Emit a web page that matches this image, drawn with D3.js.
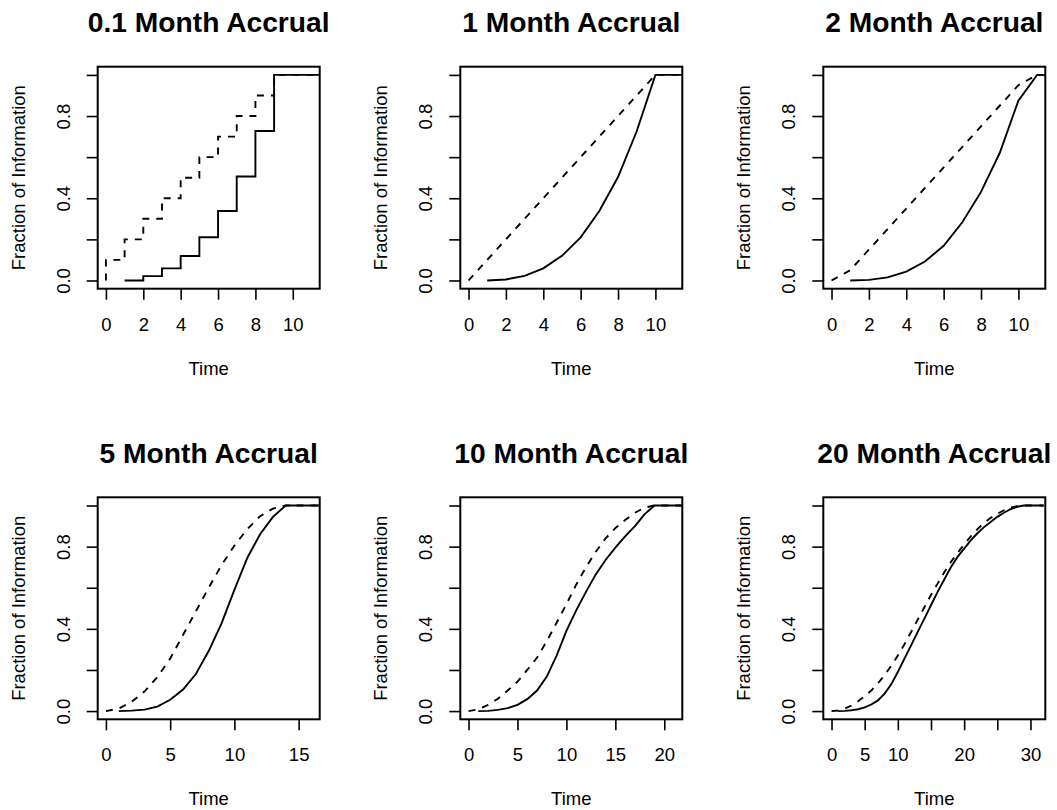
<!DOCTYPE html>
<html>
<head>
<meta charset="utf-8">
<script src="https://cdn.jsdelivr.net/npm/d3@7"></script>
<style>
  html, body { margin: 0; padding: 0; background: #fff; }
  svg { display: block; }
  text { font-family: "Liberation Sans", Arial, Helvetica, sans-serif; fill: #000; }
</style>
</head>
<body>
<svg id="chart" width="1057" height="810"></svg>
<script>
// ---------------- data ----------------
const titles = ["0.1 Month Accrual", "1 Month Accrual", "2 Month Accrual",
                "5 Month Accrual", "10 Month Accrual", "20 Month Accrual"];
const xMax = [11, 11, 11, 16, 21, 31];
const xTicks = [[0,2,4,6,8,10],[0,2,4,6,8,10],[0,2,4,6,8,10],
                [0,5,10,15],[0,5,10,15,20],[0,5,10,15,20,25,30]];
const xTickLabels = [["0","2","4","6","8","10"],["0","2","4","6","8","10"],["0","2","4","6","8","10"],
                     ["0","5","10","15"],["0","5","10","15","20"],["0","5","10","","20","","30"]];
const yTicks = [0, 0.2, 0.4, 0.6, 0.8, 1.0];
const yTickLabels = ["0.0", "", "0.4", "", "0.8", ""];
const xLabel = "Time";
const yLabel = "Fraction of Information";

// panel 1: 0.1 month accrual (step functions)
const solid1Time = [1, 2, 3, 4, 5, 6, 7, 8, 9, 12];
const solid1Val  = [0, 0.021, 0.059, 0.119, 0.21, 0.338, 0.506, 0.727, 1.0, 1.0];
const dash1Time  = [0, 1, 2, 3, 4, 5, 6, 7, 8, 9, 12];
const dash1Val   = [0, 0.1, 0.2, 0.3, 0.4, 0.5, 0.6, 0.7, 0.8, 0.9, 1.0];

// panel 2: 1 month accrual
const solid2Time = [1, 2, 3, 4, 5, 6, 7, 8, 9, 10, 12];
const solid2Val  = [0, 0.005, 0.022, 0.059, 0.12, 0.21, 0.338, 0.503, 0.726, 1.0, 1.0];
const dash2Time  = [0, 1, 2, 3, 4, 5, 6, 7, 8, 9, 10, 12];
const dash2Val   = [0, 0.1, 0.2, 0.3, 0.4, 0.5, 0.6, 0.7, 0.8, 0.9, 1.0, 1.0];

// panel 3: 2 month accrual
const solid3Time = [1, 2, 3, 4, 5, 6, 7, 8, 9, 10, 11, 12];
const solid3Val  = [0, 0.003, 0.015, 0.043, 0.092, 0.169, 0.283, 0.431, 0.62, 0.875, 1.0, 1.0];
const dash3Time  = [0, 1, 2, 3, 4, 5, 6, 7, 8, 9, 10, 11, 12];
const dash3Val   = [0, 0.05, 0.15, 0.25, 0.35, 0.45, 0.55, 0.65, 0.75, 0.85, 0.95, 1.0, 1.0];

// panel 4: 5 month accrual
const solid4Time = [1, 2, 3, 4, 5, 6, 7, 8, 9, 10, 11, 12, 13, 14, 17];
const solid4Val  = [0, 0.002, 0.007, 0.022, 0.055, 0.105, 0.18, 0.292, 0.427, 0.59, 0.745, 0.86, 0.945, 1.0, 1.0];
const dash4Time  = [0, 1, 2, 3, 4, 5, 6, 7, 8, 9, 10, 11, 12, 13, 14, 17];
const dash4Val   = [0, 0.012, 0.045, 0.095, 0.165, 0.255, 0.37, 0.485, 0.6, 0.71, 0.805, 0.885, 0.948, 0.985, 1.0, 1.0];

// panel 5: 10 month accrual
const solid5Time = [1, 2, 3, 4, 5, 6, 7, 8, 9, 10, 11, 12, 13, 14, 15, 16, 17, 18, 19, 22];
const solid5Val  = [0, 0.001, 0.006, 0.014, 0.03, 0.058, 0.1, 0.168, 0.27, 0.39, 0.49, 0.58, 0.665, 0.735, 0.795, 0.85, 0.9, 0.958, 1.0, 1.0];
const dash5Time  = [0, 1, 2, 3, 4, 5, 6, 7, 8, 9, 10, 11, 12, 13, 14, 15, 16, 17, 18, 19, 22];
const dash5Val   = [0, 0.008, 0.03, 0.06, 0.1, 0.143, 0.2, 0.26, 0.34, 0.43, 0.52, 0.615, 0.7, 0.775, 0.84, 0.89, 0.93, 0.965, 0.99, 1.0, 1.0];

// panel 6: 20 month accrual
const solid6Time = [1, 2, 3, 4, 5, 6, 7, 8, 9, 10, 11, 12, 13, 14, 15, 16, 17, 18, 19, 20, 21, 22, 23, 24, 25, 26, 27, 28, 29, 32];
const solid6Val  = [0, 0.001, 0.004, 0.009, 0.018, 0.032, 0.052, 0.085, 0.13, 0.19, 0.255, 0.32, 0.385, 0.45, 0.515, 0.58, 0.64, 0.7, 0.75, 0.79, 0.83, 0.865, 0.895, 0.92, 0.945, 0.965, 0.982, 0.994, 1.0, 1.0];
const dash6Time  = [0, 1, 2, 3, 4, 5, 6, 7, 8, 9, 10, 11, 12, 13, 14, 15, 16, 17, 18, 19, 20, 21, 22, 23, 24, 25, 26, 27, 28, 29, 32];
const dash6Val   = [0, 0.003, 0.012, 0.027, 0.048, 0.072, 0.1, 0.135, 0.175, 0.22, 0.27, 0.325, 0.385, 0.445, 0.505, 0.565, 0.62, 0.675, 0.725, 0.77, 0.81, 0.85, 0.885, 0.915, 0.94, 0.96, 0.977, 0.99, 0.997, 1.0, 1.0];

const solidTimes = [solid1Time, solid2Time, solid3Time, solid4Time, solid5Time, solid6Time];
const solidVals  = [solid1Val, solid2Val, solid3Val, solid4Val, solid5Val, solid6Val];
const dashTimes  = [dash1Time, dash2Time, dash3Time, dash4Time, dash5Time, dash6Time];
const dashVals   = [dash1Val, dash2Val, dash3Val, dash4Val, dash5Val, dash6Val];
const stepped    = [true, false, false, false, false, false];

// ---------------- layout ----------------
const boxLefts = [97.7, 460.3, 823.3];
const boxTops  = [66.7, 497.3];
const boxSize  = 222;
const tickLen  = 11;
const axisFont = 18.5;
const titleFont = 28.2;

const svg = d3.select("#chart");

titles.forEach((title, i) => {
  const L = boxLefts[i % 3], T = boxTops[Math.floor(i / 3)];
  const R = L + boxSize, B = T + boxSize;
  const ext = 0.04 * xMax[i];
  const x = d3.scaleLinear().domain([-ext, xMax[i] + ext]).range([L, R]);
  const y = d3.scaleLinear().domain([-0.04, 1.04]).range([B, T]);

  const g = svg.append("g");

  const clipId = "clip" + i;
  g.append("clipPath").attr("id", clipId)
    .append("rect").attr("x", L).attr("y", T).attr("width", boxSize).attr("height", boxSize);

  // x axis
  const xAxis = d3.axisBottom(x).tickValues(xTicks[i]).tickSize(tickLen).tickPadding(0)
    .tickFormat((d, k) => xTickLabels[i][k]);
  const xa = g.append("g").attr("transform", `translate(0,${B})`).call(xAxis);
  xa.select(".domain").remove();
  xa.selectAll(".tick line").attr("stroke", "#000").attr("stroke-width", 1.6);
  xa.selectAll(".tick text").attr("y", 42).attr("dy", null)
    .attr("font-size", axisFont).attr("fill", "#000")
    .style("font-family", '"Liberation Sans", Arial, Helvetica, sans-serif');

  // y axis
  const yAxis = d3.axisLeft(y).tickValues(yTicks).tickSize(tickLen).tickPadding(0)
    .tickFormat((d, k) => yTickLabels[k]);
  const ya = g.append("g").attr("transform", `translate(${L},0)`).call(yAxis);
  ya.select(".domain").remove();
  ya.selectAll(".tick line").attr("stroke", "#000").attr("stroke-width", 1.6);
  ya.selectAll(".tick text")
    .attr("x", null).attr("dy", null)
    .attr("transform", "translate(-28,0) rotate(-90)")
    .attr("text-anchor", "middle")
    .attr("font-size", axisFont).attr("fill", "#000")
    .style("font-family", '"Liberation Sans", Arial, Helvetica, sans-serif');

  // box
  g.append("rect").attr("x", L).attr("y", T).attr("width", boxSize).attr("height", boxSize)
    .attr("fill", "none").attr("stroke", "#000").attr("stroke-width", 2);

  // lines
  const curveS = stepped[i] ? d3.curveStepAfter : d3.curveLinear;
  const curveD = stepped[i] ? d3.curveStepBefore : d3.curveLinear;
  const solidData = solidTimes[i].map((t, k) => [t, solidVals[i][k]]);
  const dashData  = dashTimes[i].map((t, k) => [t, dashVals[i][k]]);

  g.append("path").datum(dashData)
    .attr("clip-path", `url(#${clipId})`)
    .attr("d", d3.line().x(d => x(d[0])).y(d => y(d[1])).curve(curveD))
    .attr("fill", "none").attr("stroke", "#000").attr("stroke-width", 1.9)
    .attr("stroke-dasharray", "7,7");

  g.append("path").datum(solidData)
    .attr("clip-path", `url(#${clipId})`)
    .attr("d", d3.line().x(d => x(d[0])).y(d => y(d[1])).curve(curveS))
    .attr("fill", "none").attr("stroke", "#000").attr("stroke-width", 1.9);

  // titles and labels
  g.append("text").attr("x", (L + R) / 2).attr("y", T - 34.5)
    .attr("text-anchor", "middle").attr("font-size", titleFont).attr("font-weight", "bold")
    .text(title);
  g.append("text").attr("x", (L + R) / 2).attr("y", B + 86)
    .attr("text-anchor", "middle").attr("font-size", axisFont)
    .text(xLabel);
  g.append("text")
    .attr("transform", `translate(${L - 73},${(T + B) / 2}) rotate(-90)`)
    .attr("text-anchor", "middle").attr("font-size", axisFont)
    .text(yLabel);
});
</script>
</body>
</html>
